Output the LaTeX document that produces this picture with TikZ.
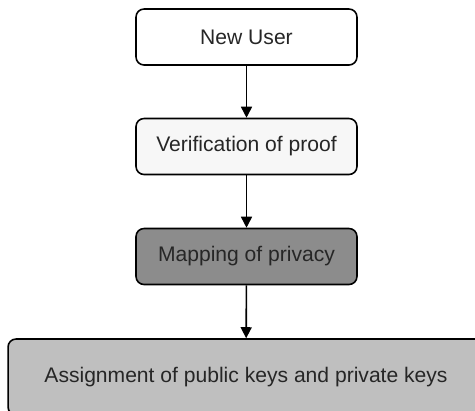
\documentclass[tikz,border=0pt]{standalone}
\usepackage{fontspec}
\setmainfont{Liberation Sans}
\usetikzlibrary{arrows.meta}

\begin{document}
\begin{tikzpicture}[
        x=0.02cm, y=-0.02cm,
        stepbox/.style={rectangle, draw, line width=0.9pt, rounded corners=0.16cm, text=black!85, font=\fontsize{12}{14}\selectfont, minimum width=4.42cm, minimum height=1.12cm, inner sep=0pt},
        every edge/.style={draw, line width=0.9pt, -{Triangle[length=0.22cm, width=0.22cm]}}
    ]
        \clip (0,0) rectangle (475,410);
        % Steps
        \node[stepbox, fill=white] (newuser) at (246.5, 37) {New User};
        \node[stepbox, fill=black!3] (verify) at (246.5, 146.5) {Verification of proof};
        \node[stepbox, fill=black!45] (mapping) at (246.5, 256.5) {Mapping of privacy};
        \node[stepbox, fill=black!25, minimum width=9.52cm, minimum height=1.52cm] (assign) at (246, 377) {Assignment of public keys and private keys};

        % Arrows
        \path
            (newuser) edge (verify)
            (verify) edge (mapping)
            (mapping) edge (assign);
    \end{tikzpicture}
\end{document}
